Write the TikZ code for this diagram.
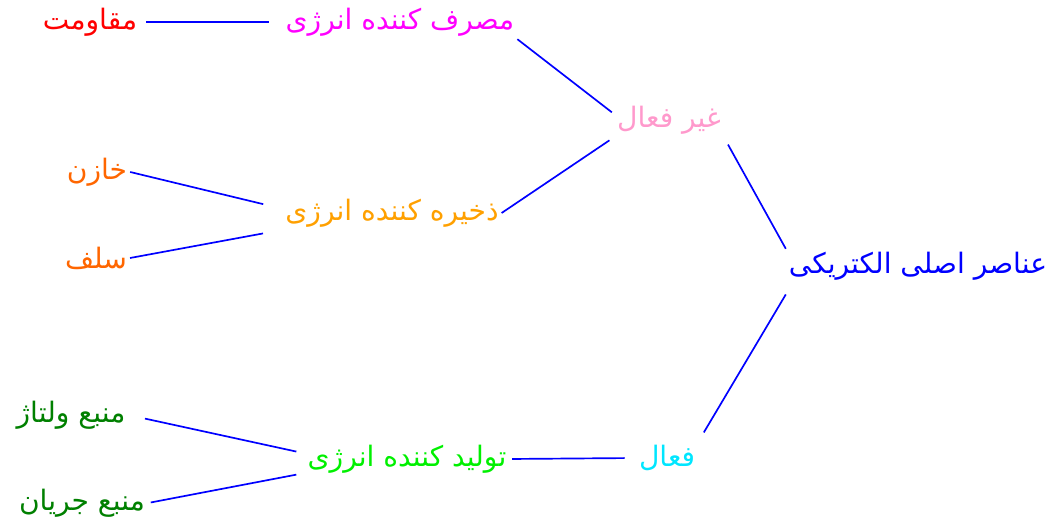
\documentclass[tikz,border=0pt]{standalone}
\usepackage{fontspec}
\newfontfamily\arabicfont[Script=Arabic]{DejaVu Sans}
\TeXXeTstate=1
\newcommand{\rtl}[1]{\beginR #1\endR}

\definecolor{rootblue}{RGB}{0,0,255}
\definecolor{inactivepink}{RGB}{255,153,204}
\definecolor{activecyan}{RGB}{0,230,255}
\definecolor{consumemagenta}{RGB}{255,0,255}
\definecolor{storeorange}{RGB}{255,160,0}
\definecolor{producegreen}{RGB}{0,240,0}
\definecolor{leafred}{RGB}{255,0,0}
\definecolor{leaforange}{RGB}{255,102,0}
\definecolor{leafgreen}{RGB}{0,128,0}

\tikzset{
    item/.style={font=\arabicfont\fontsize{20}{24}\selectfont, inner sep=2pt},
    link/.style={draw=rootblue, line width=1.2pt}
}

\begin{document}
\begin{tikzpicture}
    % Fix the page size
    \useasboundingbox (0,0) rectangle (26.375,-13.175);

    % Root and the two kinds
    \node[item, text=rootblue] (root) at (22.95,-6.65) {\rtl{عناصر اصلی الکتریکی}};
    \node[item, text=inactivepink] (inactive) at (16.725,-3.0) {\rtl{غیر فعال}};
    \node[item, text=activecyan] (active) at (16.675,-11.45) {\rtl{فعال}};

    % Middle level
    \node[item, text=consumemagenta] (consume) at (10.0,-0.55) {\rtl{مصرف کننده انرژی}};
    \node[item, text=storeorange] (store) at (9.8,-5.325) {\rtl{ذخیره کننده انرژی}};
    \node[item, text=producegreen] (produce) at (10.175,-11.475) {\rtl{تولید کننده انرژی}};

    % Leaves
    \node[item, text=leafred] (resistor) at (2.25,-0.55) {\rtl{مقاومت}};
    \node[item, text=leaforange] (capacitor) at (2.425,-4.3) {\rtl{خازن}};
    \node[item, text=leaforange] (inductor) at (2.4,-6.45) {\rtl{سلف}};
    \node[item, text=leafgreen] (vsource) at (1.775,-10.375) {\rtl{منبع ولتاژ}};
    \node[item, text=leafgreen] (isource) at (2.05,-12.575) {\rtl{منبع جریان}};

    % Connectors
    \draw[link, shorten >=6pt] (root.north west) -- (inactive.south east);
    \draw[link, shorten >=8pt] ([yshift=-8pt]root.south west) -- (active.north east);
    \draw[link, shorten <=2pt] ([yshift=-8pt]inactive.north west) -- (consume.south east);
    \draw[link, shorten <=4pt] (inactive.south west) -- (store.east);
    \draw[link, shorten <=8pt, shorten >=2pt] (active.west) -- (produce.east);
    \draw[link, shorten <=10pt, shorten >=4pt] (consume.west) -- (resistor.east);
    \draw[link, shorten <=14pt] ([yshift=3pt]store.west) -- (capacitor.east);
    \draw[link, shorten <=14pt] ([yshift=-12pt]store.west) -- (inductor.east);
    \draw[link, shorten <=6pt, shorten >=12pt] ([yshift=4pt]produce.west) -- (vsource.east);
    \draw[link, shorten <=6pt, shorten >=2pt] ([yshift=-10pt]produce.west) -- (isource.east);
\end{tikzpicture}
\end{document}
